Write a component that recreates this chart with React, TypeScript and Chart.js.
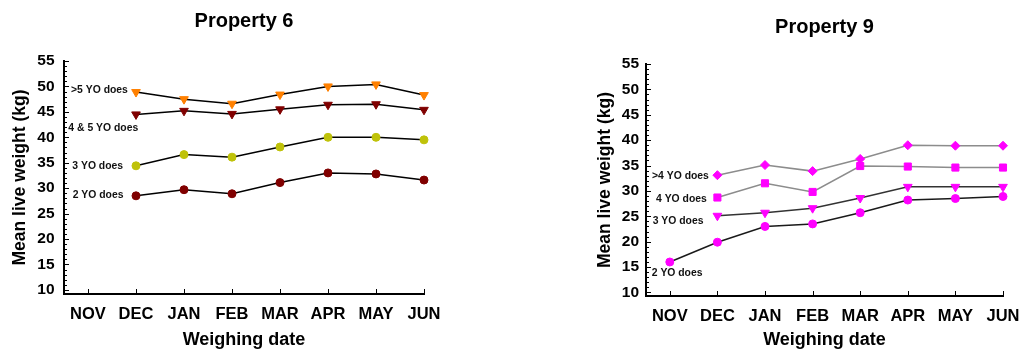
import React, { useEffect, useRef } from 'react';
import { Chart, registerables } from 'chart.js';

Chart.register(...registerables);

const FONT = '"Liberation Sans", Arial, Helvetica, sans-serif';

// ---- Data ----
const months = ['NOV', 'DEC', 'JAN', 'FEB', 'MAR', 'APR', 'MAY', 'JUN'];
const yTickValues = [10, 15, 20, 25, 30, 35, 40, 45, 50, 55];

// Property 6
const p6Over5 = [null, 48.9, 47.5, 46.6, 48.4, 50.0, 50.4, 48.3];
const p6Age4and5 = [null, 44.5, 45.2, 44.6, 45.5, 46.4, 46.5, 45.4];
const p6Age3 = [null, 34.4, 36.6, 36.1, 38.1, 40.0, 40.0, 39.5];
const p6Age2 = [null, 28.5, 29.7, 28.9, 31.1, 33.0, 32.8, 31.6];

const p6LabelText = ['>5 YO does', '4 & 5 YO does', '3 YO does', '2 YO does'];
const p6LabelX = [-0.354, -0.41, -0.327, -0.32];
const p6LabelY = [49.2, 41.8, 34.4, 28.7];

// Property 9
const p9Over4 = [null, 33.1, 35.1, 33.9, 36.3, 39.0, 38.9, 38.9];
const p9Age4 = [null, 28.7, 31.5, 29.8, 34.9, 34.8, 34.6, 34.6];
const p9Age3 = [null, 25.1, 25.7, 26.6, 28.6, 30.8, 30.8, 30.8];
const p9Age2 = [16.0, 19.9, 23.0, 23.5, 25.7, 28.2, 28.5, 28.9];

const p9LabelText = ['>4 YO does', '4 YO does', '3 YO does', '2 YO does'];
const p9LabelX = [-0.374, -0.29, -0.36, -0.38];
const p9LabelY = [33.0, 28.3, 24.0, 13.8];

// ---- Plugin: inside tick marks + series labels ----
const decorPlugin = {
  id: 'decor',
  afterDatasetsDraw(chart: any, _args: any, opts: any) {
    const { ctx, chartArea } = chart;
    const x = chart.scales.x;
    const y = chart.scales.y;
    ctx.save();
    ctx.strokeStyle = '#000';
    ctx.lineWidth = 1;
    ctx.beginPath();
    for (let v = Math.ceil(y.min); v <= y.max; v++) {
      const py = Math.round(y.getPixelForValue(v)) + 0.5;
      const len = v % 5 === 0 ? 5 : 3;
      ctx.moveTo(chartArea.left, py);
      ctx.lineTo(chartArea.left + len, py);
    }
    months.forEach((_, i) => {
      const px = Math.round(x.getPixelForValue(i)) + 0.5;
      ctx.moveTo(px, chartArea.bottom);
      ctx.lineTo(px, chartArea.bottom - 5);
    });
    ctx.stroke();

    ctx.font = `bold 10.4px ${FONT}`;
    ctx.fillStyle = '#111';
    ctx.textAlign = 'left';
    ctx.textBaseline = 'middle';
    (opts.labels || []).forEach((l: any) => {
      ctx.fillText(l.text, x.getPixelForValue(l.x), y.getPixelForValue(l.y));
    });
    ctx.restore();
  },
};

type Series = {
  name: string;
  values: (number | null)[];
  line: string;
  marker: string;
  shape: string;
  rotation: number;
  radius: number;
};

type Spec = {
  title: string;
  titlePadTop: number;
  titlePadBottom: number;
  yMin: number;
  yMax: number;
  yWidth: number;
  xHeight: number;
  yTickPad: number;
  xTickPad: number;
  padRight: number;
  series: Series[];
  labels: { text: string; x: number; y: number }[];
};

function buildConfig(spec: Spec): any {
  return {
    type: 'line',
    data: {
      datasets: spec.series.map((s) => ({
        label: s.name,
        data: s.values
          .map((v, i) => (v == null ? null : { x: i, y: v }))
          .filter((p) => p !== null),
        borderColor: s.line,
        borderWidth: 1.5,
        backgroundColor: s.marker,
        pointBackgroundColor: s.marker,
        pointBorderColor: s.marker,
        pointBorderWidth: 1,
        pointStyle: s.shape,
        pointRotation: s.rotation,
        pointRadius: s.radius,
        pointHoverRadius: s.radius,
        tension: 0,
        fill: false,
        clip: false,
      })),
    },
    options: {
      responsive: false,
      animation: false,
      events: [],
      layout: { padding: { left: 0, top: 0, right: spec.padRight, bottom: 0 } },
      plugins: {
        legend: { display: false },
        tooltip: { enabled: false },
        title: {
          display: true,
          text: spec.title,
          fullSize: false,
          color: '#000',
          font: { family: FONT, size: 20, weight: 'bold', lineHeight: 1.2 },
          padding: { top: spec.titlePadTop, bottom: spec.titlePadBottom },
        },
        decor: { labels: spec.labels },
      },
      scales: {
        x: {
          type: 'linear',
          min: -0.5,
          max: 7,
          afterBuildTicks: (s: any) => {
            s.ticks = months.map((_, i) => ({ value: i }));
          },
          afterFit: (s: any) => {
            s.height = spec.xHeight;
            s.paddingLeft = 0;
            s.paddingRight = 0;
          },
          grid: { display: false, drawTicks: false },
          border: { display: true, color: '#000', width: 2 },
          ticks: {
            autoSkip: false,
            maxRotation: 0,
            color: '#000',
            padding: spec.xTickPad,
            font: { family: FONT, size: 16.5, weight: 'bold' },
            callback: (v: any) => months[v] ?? '',
          },
          title: {
            display: true,
            text: 'Weighing date',
            color: '#000',
            font: { family: FONT, size: 18, weight: 'bold', lineHeight: 1.2 },
            padding: { top: 0, bottom: 0 },
          },
        },
        y: {
          type: 'linear',
          min: spec.yMin,
          max: spec.yMax,
          afterBuildTicks: (s: any) => {
            s.ticks = yTickValues.map((v) => ({ value: v }));
          },
          afterFit: (s: any) => {
            s.width = spec.yWidth;
            s.paddingTop = 0;
            s.paddingBottom = 0;
          },
          grid: { display: false, drawTicks: false },
          border: { display: true, color: '#000', width: 2 },
          ticks: {
            color: '#000',
            padding: spec.yTickPad,
            font: { family: FONT, size: 15.5, weight: 'bold' },
          },
          title: {
            display: true,
            text: 'Mean live weight (kg)',
            color: '#000',
            font: { family: FONT, size: 17.5, weight: 'bold', lineHeight: 1.2 },
            padding: { top: 9.5, bottom: 0 },
          },
        },
      },
    },
    plugins: [decorPlugin],
  };
}

const spec6: Spec = {
  title: 'Property 6',
  titlePadTop: 9.5,
  titlePadBottom: 27.5,
  yMin: 9.2,
  yMax: 55,
  yWidth: 64,
  xHeight: 57,
  yTickPad: 9.5,
  xTickPad: 11,
  padRight: 46,
  series: [
    { name: '>5 YO does', values: p6Over5, line: '#000', marker: '#ff8000', shape: 'triangle', rotation: 180, radius: 5 },
    { name: '4 & 5 YO does', values: p6Age4and5, line: '#000', marker: '#800000', shape: 'triangle', rotation: 180, radius: 5 },
    { name: '3 YO does', values: p6Age3, line: '#000', marker: '#bfc20a', shape: 'circle', rotation: 0, radius: 4 },
    { name: '2 YO does', values: p6Age2, line: '#000', marker: '#800000', shape: 'circle', rotation: 0, radius: 4 },
  ],
  labels: p6LabelText.map((t, i) => ({ text: t, x: p6LabelX[i], y: p6LabelY[i] })),
};

const spec9: Spec = {
  title: 'Property 9',
  titlePadTop: 15.3,
  titlePadBottom: 24.7,
  yMin: 9.3,
  yMax: 55,
  yWidth: 61,
  xHeight: 55,
  yTickPad: 7,
  xTickPad: 10.5,
  padRight: 16,
  series: [
    { name: '>4 YO does', values: p9Over4, line: '#8c8c8c', marker: '#ff00ff', shape: 'rectRot', rotation: 0, radius: 4.5 },
    { name: '4 YO does', values: p9Age4, line: '#8c8c8c', marker: '#ff00ff', shape: 'rect', rotation: 0, radius: 5 },
    { name: '3 YO does', values: p9Age3, line: '#333', marker: '#ff00ff', shape: 'triangle', rotation: 180, radius: 5 },
    { name: '2 YO does', values: p9Age2, line: '#1a1a1a', marker: '#ff00ff', shape: 'circle', rotation: 0, radius: 4 },
  ],
  labels: p9LabelText.map((t, i) => ({ text: t, x: p9LabelX[i], y: p9LabelY[i] })),
};

function Panel({ spec, left, width }: { spec: Spec; left: number; width: number }) {
  const ref = useRef<HTMLCanvasElement>(null);
  useEffect(() => {
    const chart = new Chart(ref.current as HTMLCanvasElement, buildConfig(spec));
    return () => chart.destroy();
  }, [spec]);
  return (
    <canvas
      ref={ref}
      width={width}
      height={351}
      style={{ position: 'absolute', left, top: 0, width, height: 351 }}
    />
  );
}

export default function App() {
  return (
    <div style={{ position: 'absolute', left: 0, top: 0, width: 1019, height: 351, background: '#fff', overflow: 'hidden' }}>
      <Panel spec={spec6} left={0} width={470} />
      <Panel spec={spec9} left={585} width={434} />
    </div>
  );
}
